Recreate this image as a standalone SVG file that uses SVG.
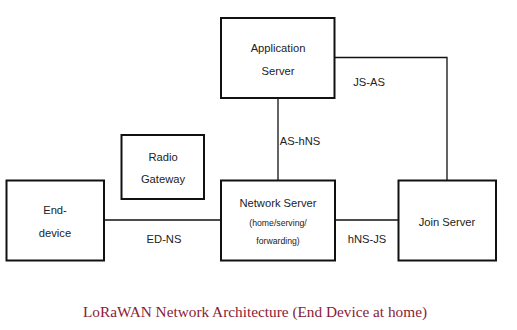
<svg xmlns="http://www.w3.org/2000/svg" width="517" height="330" viewBox="0 0 517 330">
<style>
.box{fill:#fff;stroke:#111;stroke-width:2}
.ln{fill:none;stroke:#111;stroke-width:1.3}
.t{font-family:"Liberation Sans",Arial,sans-serif;font-size:11.2px;fill:#222;text-anchor:middle}
.s{font-size:8.7px}
.cap{font-family:"Liberation Serif","Times New Roman",serif;font-size:15.3px;fill:#8b1a35;text-anchor:middle}
</style>
<rect width="517" height="330" fill="#fff"/>
<g id="connectors">
<line class="ln" x1="104" y1="220" x2="221" y2="220"/>
<line class="ln" x1="335" y1="220" x2="398" y2="220"/>
<line class="ln" x1="278" y1="98" x2="278" y2="180"/>
<polyline class="ln" points="335,57.5 447,57.5 447,180"/>
<text class="t" x="369" y="86">JS-AS</text>
<text class="t" x="300" y="145">AS-hNS</text>
<text class="t" x="164" y="243">ED-NS</text>
<text class="t" x="367" y="243">hNS-JS</text>
</g>
<g id="app-server">
<rect class="box" x="221" y="18" width="113.5" height="80"/>
<text class="t" x="278" y="52">Application</text>
<text class="t" x="278" y="75">Server</text>
</g>
<g id="radio-gateway">
<rect class="box" x="121.5" y="135" width="82.5" height="64"/>
<text class="t" x="163" y="161">Radio</text>
<text class="t" x="163" y="183">Gateway</text>
</g>
<g id="end-device">
<rect class="box" x="6.5" y="180.5" width="97.5" height="80"/>
<text class="t" x="55" y="214">End-</text>
<text class="t" x="55" y="237">device</text>
</g>
<g id="network-server">
<rect class="box" x="221" y="180.5" width="114" height="80"/>
<text class="t" x="278" y="207">Network Server</text>
<text class="t s" x="278" y="226">(home/serving/</text>
<text class="t s" x="278" y="244">forwarding)</text>
</g>
<g id="join-server">
<rect class="box" x="398.5" y="180.5" width="97.5" height="80"/>
<text class="t" x="447" y="226">Join Server</text>
</g>
<text class="cap" x="255" y="317">LoRaWAN Network Architecture (End Device at home)</text>
</svg>
